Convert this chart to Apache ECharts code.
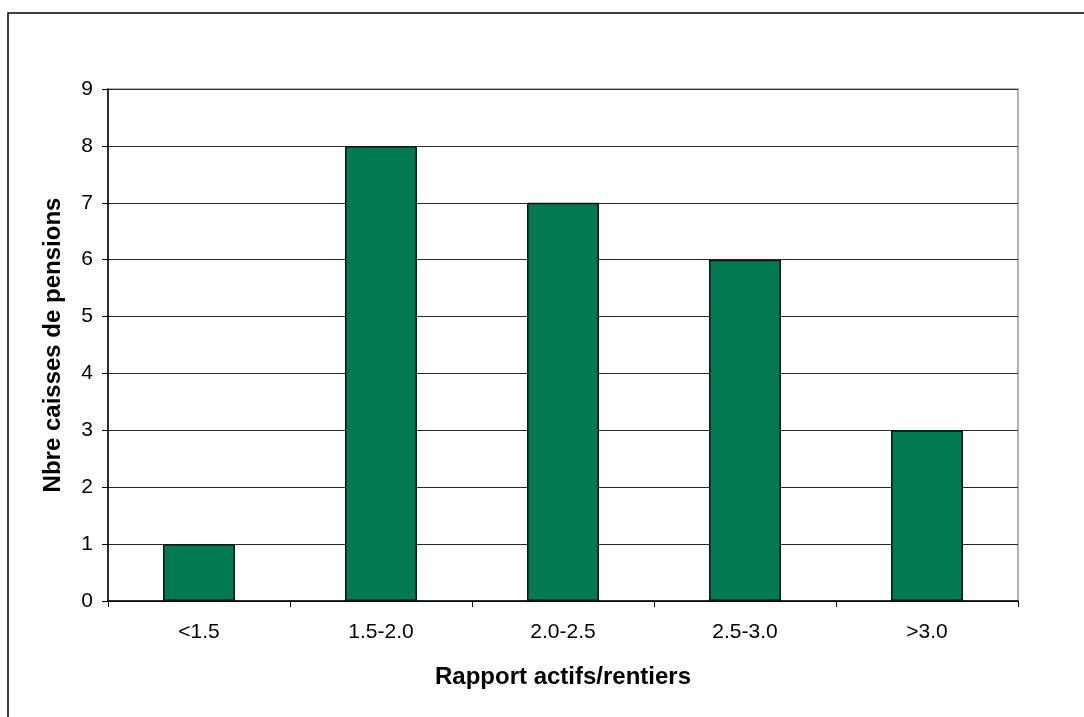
<!DOCTYPE html>
<html>
<head>
<meta charset="utf-8">
<script src="https://cdn.jsdelivr.net/npm/echarts@6/dist/echarts.min.js"></script>
<style>
  html, body { margin: 0; padding: 0; background: #fff; }
  #chart { width: 1084px; height: 717px; }
</style>
</head>
<body>
<div id="chart"></div>
<script>
// Ratio classes (actifs/rentiers) and number of pension funds in each
const categories = ['<1.5', '1.5-2.0', '2.0-2.5', '2.5-3.0', '>3.0'];
const caisses = [1, 8, 7, 6, 3];
const yTicks = [0, 1, 2, 3, 4, 5, 6, 7, 8, 9];

const font = '"Liberation Sans", Arial, sans-serif';
const chart = echarts.init(document.getElementById('chart'), null, { renderer: 'canvas' });

chart.setOption({
  backgroundColor: '#ffffff',
  animation: false,
  textStyle: { fontFamily: font },
  graphic: [{
    type: 'rect',
    shape: { x: 8, y: 13, width: 2000, height: 2000 },
    style: { fill: 'none', stroke: '#000', lineWidth: 1.5 },
    silent: true
  }],
  grid: {
    left: 108, top: 89, right: 66, bottom: 116,
    show: true, borderColor: '#9a9a9a', borderWidth: 1.5,
    containLabel: false
  },
  xAxis: {
    type: 'category',
    data: categories,
    boundaryGap: true,
    name: 'Rapport actifs/rentiers',
    nameLocation: 'middle',
    nameGap: 64,
    nameTextStyle: { fontFamily: font, fontSize: 24, fontWeight: 'bold', color: '#000' },
    axisLine: { show: true, lineStyle: { color: '#000', width: 1.5 } },
    axisTick: { show: true, alignWithLabel: false, length: 6, inside: false, lineStyle: { color: '#000', width: 1 } },
    axisLabel: { fontFamily: font, fontSize: 21, color: '#000', margin: 21 },
    splitLine: { show: false }
  },
  yAxis: {
    type: 'value',
    min: yTicks[0],
    max: yTicks[yTicks.length - 1],
    interval: 1,
    name: 'Nbre caisses de pensions',
    nameLocation: 'middle',
    nameGap: 43,
    nameRotate: 90,
    nameTextStyle: { fontFamily: font, fontSize: 24, fontWeight: 'bold', color: '#000' },
    axisLine: { show: true, lineStyle: { color: '#000', width: 1.5 } },
    axisTick: { show: true, length: 6, inside: false, lineStyle: { color: '#000', width: 1 } },
    axisLabel: { fontFamily: font, fontSize: 21, color: '#000', margin: 15 },
    splitLine: { show: true, lineStyle: { color: '#2a2a2a', width: 1 } }
  },
  series: [{
    type: 'bar',
    data: caisses,
    barWidth: 72,
    itemStyle: { color: '#017a53', borderColor: '#111', borderWidth: 1.5 },
    z: 3
  }]
});
</script>
</body>
</html>
